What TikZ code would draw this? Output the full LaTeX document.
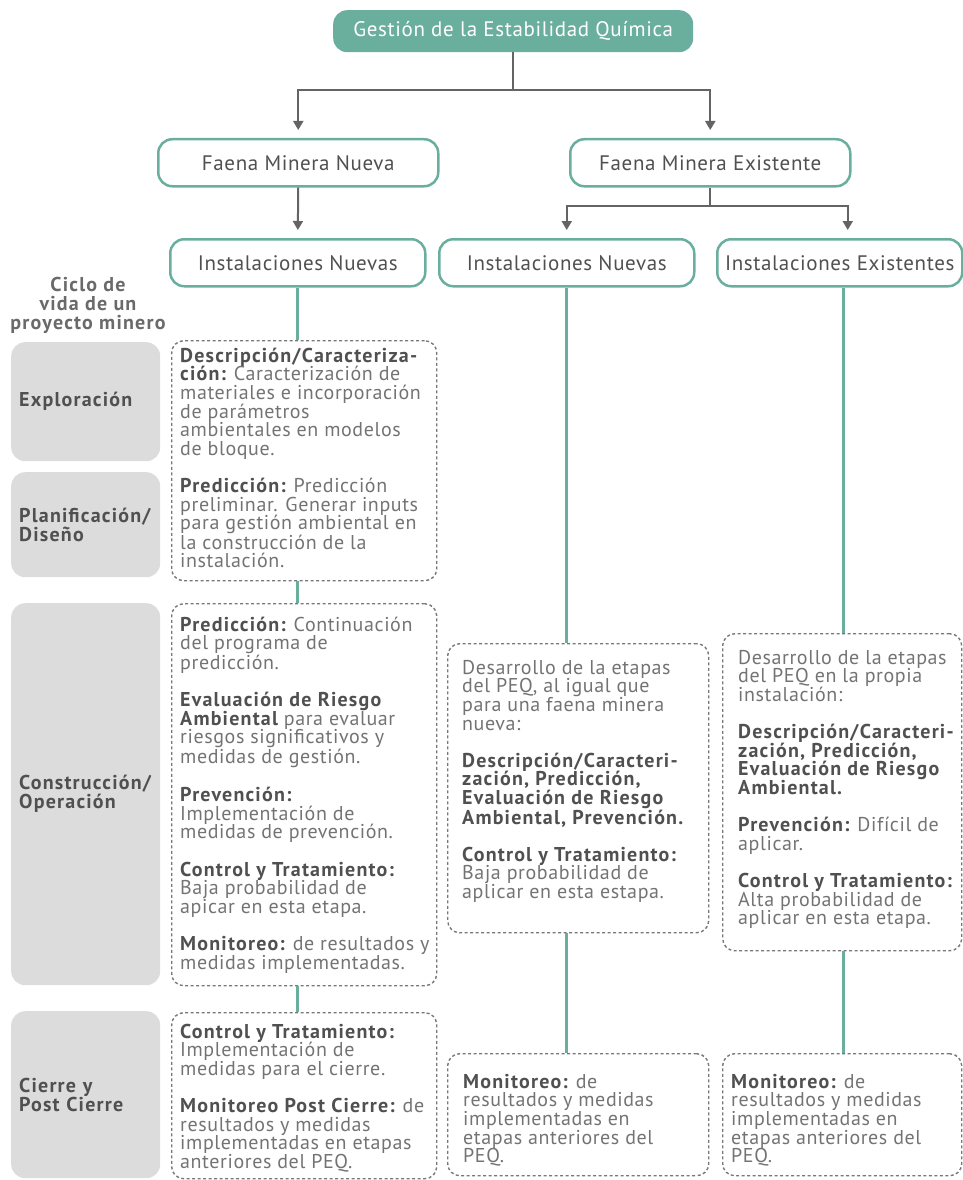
\documentclass[tikz,border=0pt]{standalone}
\usepackage{fontspec}
\setmainfont{PT Sans}[LetterSpace=3, BoldFeatures={LetterSpace=6}]
\usetikzlibrary{arrows.meta,calc}
\definecolor{teal}{RGB}{106,174,158}
\definecolor{lgrey}{RGB}{220,220,220}
\definecolor{dtext}{RGB}{80,80,80}
\definecolor{rtext}{RGB}{115,115,115}
\definecolor{agrey}{RGB}{100,100,100}
\definecolor{dgrey}{RGB}{120,120,120}
\newcommand\hd[1]{{\bfseries\color{dtext}#1}}
\newcommand\fs{\rule{0pt}{16pt}}
\newcommand\gap{\\[18.6pt]}
\tikzset{
  titlebox/.style={fill=teal, rounded corners=14pt, text=white, font=\fontsize{21}{22}\selectfont, minimum width=360pt, minimum height=42pt, inner sep=0pt, anchor=north west},
  hbox/.style={draw=teal, line width=2.5pt, rounded corners=14pt, fill=white, text=dtext, font=\fontsize{21}{22}\selectfont, minimum height=47pt, inner sep=0pt, anchor=north west},
  gbox/.style={fill=lgrey, rounded corners=14pt, minimum width=149pt, text width=133pt, inner xsep=8pt, inner ysep=0pt, align=left, anchor=north west, text=dtext, font=\fontsize{20}{19}\selectfont\bfseries},
  dbox/.style={draw=dgrey, dash pattern=on 3pt off 2.5pt, line width=1.4pt, rounded corners=12pt, anchor=north west, inner sep=0pt},
  body/.style={anchor=north west, inner sep=0pt, align=left, text=rtext, font=\fontsize{20}{18.6}\selectfont},
  arr/.style={draw=agrey, line width=2pt, -{Triangle[width=10pt,length=9pt]}, shorten >=8pt},
  tline/.style={draw=teal, line width=3pt},
}
\begin{document}
\begin{tikzpicture}[x=1pt,y=-1pt]
\useasboundingbox (0,0) rectangle (963,1180);
% header boxes
\node[titlebox] (T) at (333,10) {Gestión de la Estabilidad Química};
\node[hbox, minimum width=280pt] (FMN) at (157,138) {Faena Minera Nueva};
\node[hbox, minimum width=280pt] (FME) at (569,138) {Faena Minera Existente};
\node[hbox, minimum width=255pt] (IN1) at (169,238) {Instalaciones Nuevas};
\node[hbox, minimum width=255pt] (IN2) at (438,238) {Instalaciones Nuevas};
\node[hbox, minimum width=245pt] (IE) at (716,238) {Instalaciones Existentes};
% arrows
\coordinate (j1) at ($(T.south)+(0,38)$);
\draw[arr] (T.south) -- (j1) -| (FMN.north);
\draw[arr] (j1) -| (FME.north);
\draw[arr] (FMN.south) -- (IN1.north);
\coordinate (j2) at ($(FME.south)+(0,18)$);
\coordinate (ien) at ($(IE.north)+(8,0)$);
\coordinate (ies) at ($(IE.south)+(4,0)$);
\draw[arr] (FME.south) -- (j2) -| (IN2.north);
\draw[arr] (j2) -| (ien);
% left column
\node[anchor=center, align=center, inner sep=0pt, text=dtext!85!white, font=\fontsize{20}{19}\selectfont\bfseries] (cic) at (88,305) {Ciclo de\\vida de un\\proyecto minero};
\node[gbox, minimum height=119pt] (g1) at (11,342) {Exploración};
\node[gbox, minimum height=105pt] (g2) at (11,472) {Planificación/\\Diseño};
\node[gbox, minimum height=382pt] (g3) at (11,603) {Construcción/\\Operación};
\node[gbox, minimum height=167pt] (g4) at (11,1011) {Cierre y\\Post Cierre};
% dotted boxes
\node[dbox, minimum width=265pt, minimum height=240pt] (b1) at (171,340) {};
\node[dbox, minimum width=265pt, minimum height=382pt] (b2) at (171,603) {};
\node[dbox, minimum width=265pt, minimum height=166pt] (b3) at (171,1012) {};
\node[dbox, minimum width=261pt, minimum height=289pt] (mA) at (447,643) {};
\node[dbox, minimum width=239pt, minimum height=317pt] (rA) at (722,633) {};
\node[dbox, minimum width=261pt, minimum height=122pt] (mB) at (447,1053) {};
\node[dbox, minimum width=239pt, minimum height=122pt] (rB) at (722,1053) {};
% teal connectors
\draw[tline] (IN1.south) -- (b1.north -| IN1.south);
\draw[tline] (b1.south -| IN1.south) -- (b2.north -| IN1.south);
\draw[tline] (b2.south -| IN1.south) -- (b3.north -| IN1.south);
\draw[tline] (IN2.south) -- (mA.north -| IN2.south);
\draw[tline] (mA.south -| IN2.south) -- (mB.north -| IN2.south);
\draw[tline] (ies) -- (rA.north -| ies);
\draw[tline] (rA.south -| ies) -- (rB.north -| ies);
% texts
\node[body] (t1) at (180,346) {\fs\hd{Descripción/Caracteriza-}\\
\hd{ción:} Caracterización de\\
materiales e incorporación\\
de parámetros\\
ambientales en modelos\\
de bloque.\gap
\hd{Predicción:} Predicción\\
preliminar. Generar inputs\\
para gestión ambiental en\\
la construcción de la\\
instalación.};
\node[body] (t2) at (180,615) {\fs\hd{Predicción:} Continuación\\
del programa de\\
predicción.\gap
\hd{Evaluación de Riesgo}\\
\hd{Ambiental} para evaluar\\
riesgos significativos y\\
medidas de gestión.\gap
\hd{Prevención:}\\
Implementación de\\
medidas de prevención.\gap
\hd{Control y Tratamiento:}\\
Baja probabilidad de\\
apicar en esta etapa.\gap
\hd{Monitoreo:} de resultados y\\
medidas implementadas.};
\node[body] (t3) at (180,1022) {\fs\hd{Control y Tratamiento:}\\
Implementación de\\
medidas para el cierre.\gap
\hd{Monitoreo Post Cierre:} de\\
resultados y medidas\\
implementadas en etapas\\
anteriores del PEQ.};
\node[body] (t4) at (462,658) {\fs Desarrollo de la etapas\\
del PEQ, al igual que\\
para una faena minera\\
nueva:\gap
\hd{Descripción/Caracteri-}\\
\hd{zación, Predicción,}\\
\hd{Evaluación de Riesgo}\\
\hd{Ambiental, Prevención.}\gap
\hd{Control y Tratamiento:}\\
Baja probabilidad de\\
aplicar en esta estapa.};
\node[body] (t5) at (738,648) {\fs Desarrollo de la etapas\\
del PEQ en la propia\\
instalación:\gap
\hd{Descripción/Caracteri-}\\
\hd{zación, Predicción,}\\
\hd{Evaluación de Riesgo}\\
\hd{Ambiental.}\gap
\hd{Prevención:} Difícil de\\
aplicar.\gap
\hd{Control y Tratamiento:}\\
Alta probabilidad de\\
aplicar en esta etapa.};
\node[body] (t6) at (463,1072) {\fs\hd{Monitoreo:} de\\
resultados y medidas\\
implementadas en\\
etapas anteriores del\\
PEQ.};
\node[body] (t7) at (731,1072) {\fs\hd{Monitoreo:} de\\
resultados y medidas\\
implementadas en\\
etapas anteriores del\\
PEQ.};
\end{tikzpicture}
\end{document}
